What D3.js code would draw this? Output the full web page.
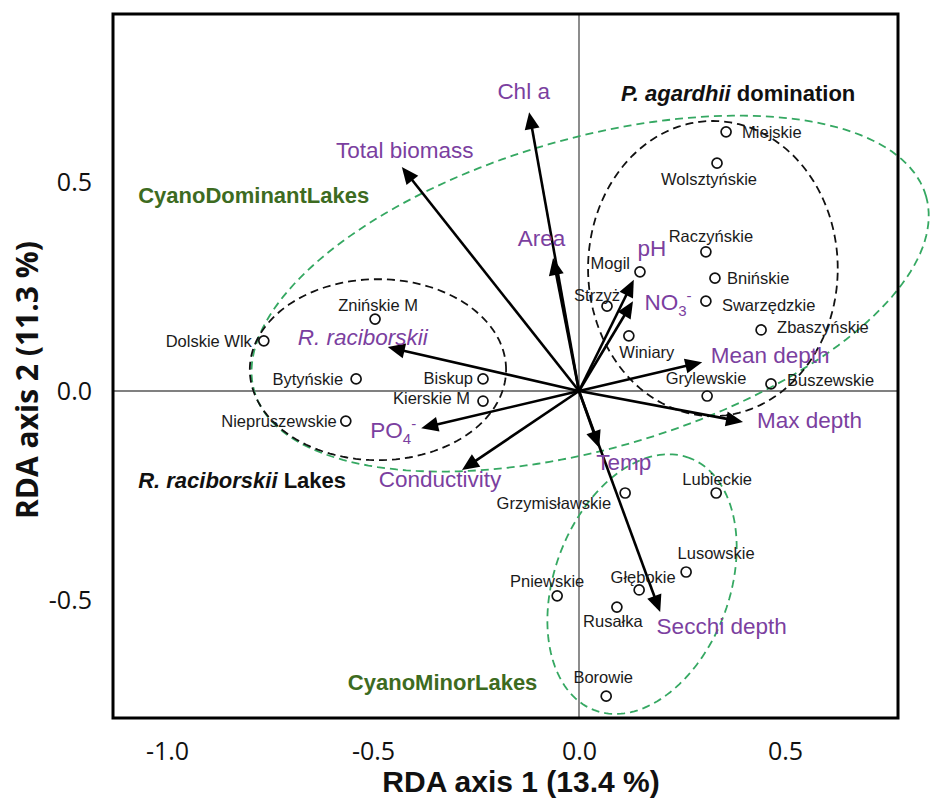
<!DOCTYPE html>
<html><head><meta charset="utf-8">
<script src="https://cdn.jsdelivr.net/npm/d3@7"></script>
<style>body{margin:0;background:#fff}</style>
</head><body><svg id="chart" width="932" height="800"></svg>
<script>
// ---------------- data ----------------
const xTicks = [-1.0, -0.5, 0.0, 0.5];
const yTicks = [-0.5, 0.0, 0.5];
const xTitle = "RDA axis 1 (13.4 %)";
const yTitle = "RDA axis 2 (11.3 %)";

const sites = ["Miejskie","Wolsztyńskie","Raczyńskie","Mogil","Bnińskie","Strzyż","Swarzędzkie",
  "Zbaszyńskie","Winiary","Grylewskie","Buszewskie","Znińskie M","Dolskie Wlk","Bytyńskie","Biskup",
  "Kierskie M","Niepruszewskie","Grzymisławskie","Lubieckie","Lusowskie","Głębokie","Pniewskie","Rusałka","Borowie"];
const siteRDA1 = [0.357,0.335,0.308,0.148,0.330,0.068,0.308,0.442,0.121,0.311,0.466,-0.495,-0.765,-0.541,-0.233,
  -0.233,-0.566,0.112,0.333,0.260,0.146,-0.053,0.092,0.066];
const siteRDA2 = [0.620,0.545,0.333,0.285,0.270,0.203,0.215,0.146,0.132,-0.012,0.017,0.172,0.120,0.029,0.029,
  -0.024,-0.072,-0.244,-0.244,-0.433,-0.476,-0.490,-0.517,-0.730];

const envNames = ["Chl a","Total biomass","Area","R. raciborskii","pH","NO3","Mean depth","Max depth","Temp","Secchi depth","PO4","Conductivity"];
const envRDA1 = [-0.121,-0.430,-0.063,-0.464,0.133,0.131,0.299,0.398,0.049,0.197,-0.383,-0.284];
const envRDA2 = [0.667,0.536,0.318,0.105,0.266,0.215,0.069,-0.074,-0.136,-0.529,-0.089,-0.189];

const groupNames = ["CyanoDominantLakes","CyanoMinorLakes","R. raciborskii Lakes","P. agardhii domination"];
const ellipseCentreX = [0.027, 0.153, -0.488, 0.325];
const ellipseCentreY = [0.233, -0.462, 0.051, 0.293];
const ellipseSemiA   = [0.848, 0.323, 0.311, 0.303];
const ellipseSemiB   = [0.371, 0.212, 0.2165, 0.353];
const ellipseAngle   = [15.9, 68.7, 0, 0];

// ---------------- layout ----------------
const W = 932, H = 800;
const frame = {l:113, t:14, r:898, b:718};
const purple = "#7b3fa0", darkGreen = "#3d6b21", dashGreen = "#35a862";
const sans = "'Liberation Sans', Arial, sans-serif";

const siteLabelLayout = {
  "Miejskie":["start",16,0], "Wolsztyńskie":["middle",-8,16], "Raczyńskie":["middle",5,-16],
  "Mogil":["end",-10,-9], "Bnińskie":["start",12,0], "Strzyż":["middle",-10,-11],
  "Swarzędzkie":["start",16,4], "Zbaszyńskie":["start",16,-3], "Winiary":["middle",18,16],
  "Grylewskie":["middle",-1,-18], "Buszewskie":["start",16,-4], "Znińskie M":["middle",3,-14],
  "Dolskie Wlk":["end",-12,0], "Bytyńskie":["end",-13,0], "Biskup":["end",-10,-1],
  "Kierskie M":["end",-13,-3], "Niepruszewskie":["end",-9,0], "Grzymisławskie":["end",-14,10],
  "Lubieckie":["middle",1,-14], "Lusowskie":["middle",30,-19], "Głębokie":["middle",4,-13],
  "Pniewskie":["middle",-10,-15], "Rusałka":["middle",-4,14], "Borowie":["middle",-3,-19]
};
const envLabelLayout = {
  "Chl a":[-5.5,-21], "Total biomass":[3,-17], "Area":[-11.5,-20], "R. raciborskii":[-25,-10],
  "pH":[18,-32], "NO3":[35,1], "Mean depth":[68,-7], "Max depth":[66.5,-2], "Temp":[24.5,14],
  "Secchi depth":[61.5,14], "PO4":[-28,2], "Conductivity":[-22,9]
};
const groupLabelLayout = [
  {x:-1.070, y:0.469, color:darkGreen},
  {x:-0.561, y:-0.696, color:darkGreen},
  {x:-1.070, y:-0.213, color:"#111"},
  {x:0.102, y:0.713, color:"#111"}
];

// ---------------- scales ----------------
const x0px = 579, kx = 412, y0px = 391, ky = 418;
const x = d3.scaleLinear().domain([(frame.l-x0px)/kx, (frame.r-x0px)/kx]).range([frame.l, frame.r]);
const y = d3.scaleLinear().domain([(y0px-frame.b)/ky, (y0px-frame.t)/ky]).range([frame.b, frame.t]);

const svg = d3.select("#chart");
svg.append("rect").attr("width",W).attr("height",H).attr("fill","#fff");

// zero lines
svg.append("line").attr("x1",frame.l).attr("x2",frame.r).attr("y1",y(0)).attr("y2",y(0))
  .attr("stroke","#808080").attr("stroke-width",1.8);
svg.append("line").attr("x1",x(0)).attr("x2",x(0)).attr("y1",frame.t).attr("y2",frame.b)
  .attr("stroke","#808080").attr("stroke-width",1.8);

// ellipses
const line = d3.line().x(d=>x(d[0])).y(d=>y(d[1])).curve(d3.curveLinearClosed);
groupNames.forEach((g,i)=>{
  const th = ellipseAngle[i]*Math.PI/180, a = ellipseSemiA[i], b = ellipseSemiB[i];
  const pts = d3.range(0, 360, 2).map(deg=>{
    const t = deg*Math.PI/180;
    return [ellipseCentreX[i] + a*Math.cos(th)*Math.cos(t) - b*Math.sin(th)*Math.sin(t),
            ellipseCentreY[i] + a*Math.sin(th)*Math.cos(t) + b*Math.cos(th)*Math.sin(t)];
  });
  svg.append("path").attr("d", line(pts)).attr("fill","none")
    .attr("stroke", i<2 ? dashGreen : "#111").attr("stroke-width",1.8)
    .attr("stroke-dasharray","8,5");
});

// arrows
const headLen = 17, headHalf = 7.5;
envNames.forEach((n,i)=>{
  const x1 = x(0), y1 = y(0), x2 = x(envRDA1[i]), y2 = y(envRDA2[i]);
  const dx = x2-x1, dy = y2-y1, L = Math.hypot(dx,dy), ux = dx/L, uy = dy/L;
  const bx = x2 - ux*headLen, by = y2 - uy*headLen;
  svg.append("line").attr("x1",x1).attr("y1",y1).attr("x2",bx+ux*2).attr("y2",by+uy*2)
    .attr("stroke","#000").attr("stroke-width",2.6);
  svg.append("path").attr("d",`M${x2},${y2}L${bx-uy*headHalf},${by+ux*headHalf}L${bx+uy*headHalf},${by-ux*headHalf}Z`)
    .attr("fill","#000");
});

// sites
sites.forEach((s,i)=>{
  const cx = x(siteRDA1[i]), cy = y(siteRDA2[i]);
  svg.append("circle").attr("cx",cx).attr("cy",cy).attr("r",5)
    .attr("fill","none").attr("stroke","#111").attr("stroke-width",1.7);
  const L = siteLabelLayout[s];
  svg.append("text").attr("x",cx+L[1]).attr("y",cy+L[2]).attr("dy","0.35em")
    .attr("text-anchor",L[0]).attr("font-family",sans).attr("font-size",16.5)
    .attr("fill","#1a1a1a").text(s);
});

// env labels
envNames.forEach((n,i)=>{
  const L = envLabelLayout[n];
  const t = svg.append("text").attr("x",x(envRDA1[i])+L[0]).attr("y",y(envRDA2[i])+L[1])
    .attr("dy","0.35em").attr("text-anchor","middle").attr("font-family",sans)
    .attr("font-size",22.5).attr("fill",purple);
  if (n==="NO3" || n==="PO4") {
    t.append("tspan").text(n.slice(0,2));
    t.append("tspan").attr("font-size",15).attr("dy",6).text(n.slice(2));
    t.append("tspan").attr("font-size",15).attr("dy",-15).text("-");
  } else if (n==="R. raciborskii") {
    t.attr("font-style","italic").text(n);
  } else t.text(n);
});

// group labels
groupNames.forEach((g,i)=>{
  const G = groupLabelLayout[i];
  const t = svg.append("text").attr("x",x(G.x)).attr("y",y(G.y)).attr("dy","0.35em")
    .attr("font-family",sans).attr("font-size",22).attr("font-weight","bold").attr("fill",G.color);
  if (i===2) { t.append("tspan").attr("font-style","italic").text("R. raciborskii"); t.append("tspan").text(" Lakes"); }
  else if (i===3) { t.append("tspan").attr("font-style","italic").text("P. agardhii"); t.append("tspan").text(" domination"); }
  else t.text(g);
});

// frame
svg.append("rect").attr("x",frame.l).attr("y",frame.t).attr("width",frame.r-frame.l).attr("height",frame.b-frame.t)
  .attr("fill","none").attr("stroke","#000").attr("stroke-width",3);

// axes
const fmt = d => d.toFixed(1);
const gx = svg.append("g").attr("transform",`translate(0,${frame.b})`)
  .call(d3.axisBottom(x).tickValues(xTicks).tickFormat(fmt).tickSize(0));
gx.select(".domain").remove();
gx.selectAll("text").attr("y",33).attr("dy","0.35em").attr("font-family","'Open Sans', sans-serif")
  .attr("font-size",25).attr("fill","#111");
const gy = svg.append("g").attr("transform",`translate(${frame.l},0)`)
  .call(d3.axisLeft(y).tickValues(yTicks).tickFormat(fmt).tickSize(0));
gy.select(".domain").remove();
gy.selectAll("text").attr("x",-21).attr("dy","0.35em").attr("font-family","'Open Sans', sans-serif")
  .attr("font-size",25).attr("fill","#111");

svg.append("text").attr("x",521).attr("y",781).attr("dy","0.35em").attr("text-anchor","middle")
  .attr("font-family",sans).attr("font-weight","bold").attr("font-size",30).attr("fill","#111").text(xTitle);
svg.append("text").attr("transform",`translate(27,380) rotate(-90)`).attr("dy","0.35em").attr("text-anchor","middle")
  .attr("font-family","'Open Sans', sans-serif").attr("font-weight","bold").attr("font-size",30).attr("fill","#111").text(yTitle);
</script></body></html>
